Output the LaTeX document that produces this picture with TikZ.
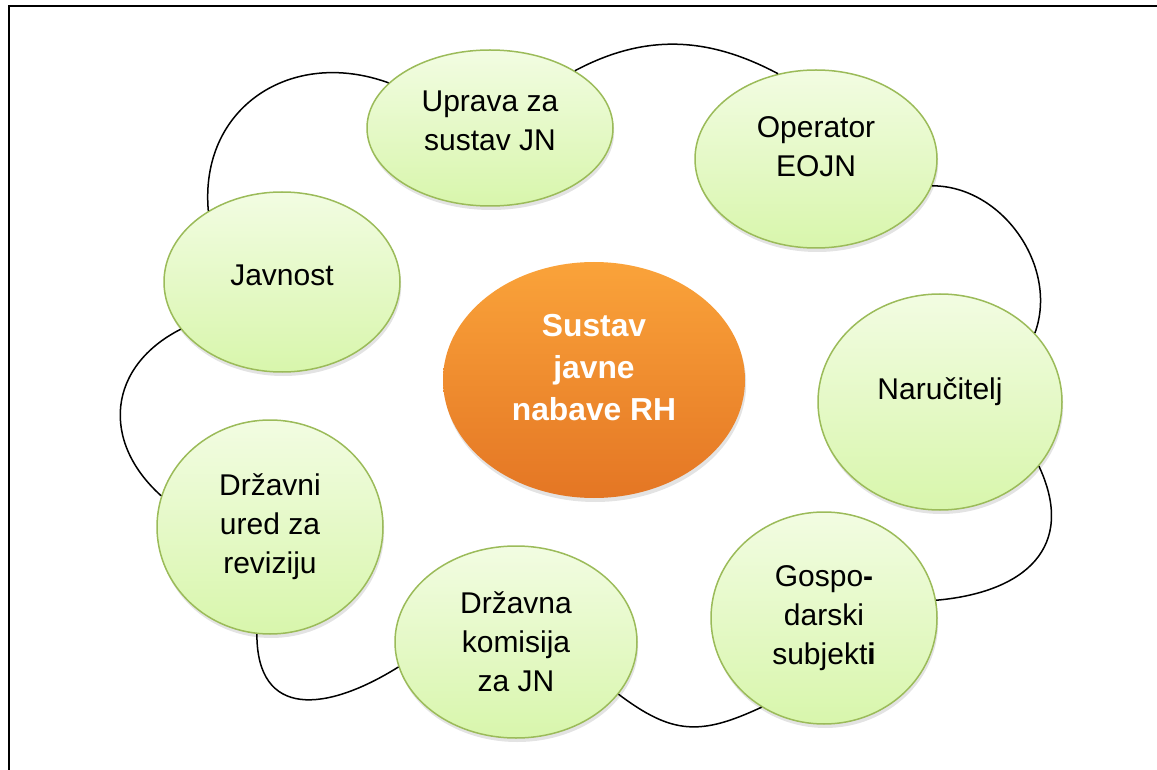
\documentclass[tikz,border=0pt]{standalone}
\usepackage{fontspec}
\setmainfont{Liberation Sans}
\usetikzlibrary{shapes.geometric, shadows}

\definecolor{bubbletop}{RGB}{242,252,226}
\definecolor{bubblebot}{RGB}{216,246,172}
\definecolor{bubbleline}{RGB}{155,187,89}
\definecolor{hubtop}{RGB}{250,163,58}
\definecolor{hubbot}{RGB}{228,118,36}

\begin{document}
\begin{tikzpicture}[x=0.5pt, y=-0.5pt,
    bubble/.style={ellipse, draw=bubbleline, line width=0.75pt,
      top color=bubbletop, bottom color=bubblebot, inner sep=0pt,
      align=center, font=\fontsize{15}{19.5}\selectfont,
      drop shadow={shadow xshift=0.6pt, shadow yshift=-2pt, opacity=0.22}},
    hub/.style={ellipse, top color=hubtop, bottom color=hubbot, inner sep=0pt,
      align=center, text=white, font=\bfseries\fontsize{15.9}{21}\selectfont,
      drop shadow={shadow xshift=0.6pt, shadow yshift=-2pt, opacity=0.22}},
    textlift/.style={text depth=#1},
    link/.style={line width=0.75pt}]
  %tikz  sustav javne nabave, oblak
    \useasboundingbox (0,0) rectangle (1157,770);
    \clip (0,0) rectangle (1157,770);
    \draw[line width=1pt] (9,6) rectangle (1200,800);

    \node[hub, textlift=13pt, minimum width=151pt, minimum height=118pt] (sustav) at (594,380) {Sustav\\javne\\nabave RH};

    \node[bubble, textlift=7pt, minimum width=123pt, minimum height=78pt] (uprava) at (490,128) {Uprava za\\sustav JN};
    \node[bubble, textlift=12pt, minimum width=121pt, minimum height=89pt] (operator) at (816,159) {Operator\\EOJN};
    \node[bubble, textlift=13pt, minimum width=122pt, minimum height=108pt] (narucitelj) at (940,402) {Naručitelj};
    \node[bubble, minimum width=113pt, minimum height=106pt] (gospo) at (824,618) {Gospo\textbf{-}\\darski\\subjekt\textbf{i}};
    \node[bubble, minimum width=121pt, minimum height=96pt] (komisija) at (516,642) {Državna\\komisija\\za JN};
    \node[bubble, minimum width=113pt, minimum height=107pt] (ured) at (270,527) {Državni\\ured za\\reviziju};
    \node[bubble, textlift=7pt, minimum width=118pt, minimum height=90pt] (javnost) at (282,282) {Javnost};

    \draw[link] (javnost.136) to[out=95, in=160, looseness=1.2] (uprava.156);
    \draw[link] (uprava.34) to[out=28, in=152] (operator.114);
    \draw[link] (operator.-13) to[out=0, in=70] (narucitelj.36);
    \draw[link] (narucitelj.-33) to[out=-65, in=5, looseness=1.35] (gospo.9);
    \draw[link] (gospo.-125) to[out=205, in=-37, looseness=1.2] (komisija.-27);
    \draw[link] (komisija.192) to[out=212, in=-90, looseness=1.5] (ured.263);
    \draw[link] (ured.164) to[out=138, in=207, looseness=1.25] (javnost.205);
\end{tikzpicture}
\end{document}
